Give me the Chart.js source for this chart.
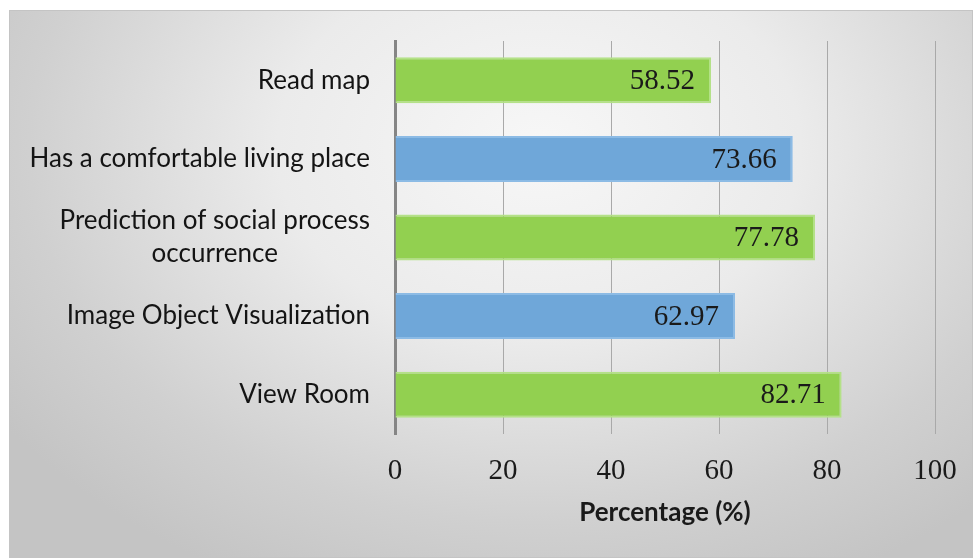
<!DOCTYPE html>
<html>
<head>
<meta charset="utf-8">
<script src="https://cdn.jsdelivr.net/npm/chart.js@4.4.0/dist/chart.umd.min.js"></script>
<style>
  html, body { margin: 0; padding: 0; background: #ffffff; }
  #box {
    position: absolute; left: 9px; top: 10px; width: 964px; height: 548px;
    box-sizing: border-box; border: 1px solid #c4c4c4;
    background: radial-gradient(ellipse 68% 88% at 55% 25%, #f7f7f7 0%, #ebebeb 40%, #d0d0d0 78%, #c4c4c4 100%);
  }
  #chart { display: block; }
</style>
</head>
<body>
<div id="box"><canvas id="chart" width="962" height="546"></canvas></div>
<script>
// valeurs (du haut vers le bas)
const categories = [
  ['Read map'],
  ['Has a comfortable living place'],
  ['Prediction of social process', 'occurrence'],
  ['Image Object Visualization'],
  ['View Room']
];
const values = [58.52, 73.66, 77.78, 62.97, 82.71];
const xTicks = [0, 20, 40, 60, 80, 100];

const green = '#92d050', blue = '#6fa7d9';
const barColors = [green, blue, green, blue, green];
const barBorders = ['#b4e188', '#8cbbe5', '#b4e188', '#8cbbe5', '#b4e188'];

const labelFont = '26px Lato';
const numFont = '29px "Liberation Serif"';

// étiquettes de catégories : bloc aligné à droite, lignes centrées
const categoryLabels = {
  id: 'categoryLabels',
  afterDraw(chart) {
    const ctx = chart.ctx;
    const y = chart.scales.y;
    const right = 360;
    const lineH = 33;
    ctx.save();
    ctx.font = labelFont;
    ctx.fillStyle = '#141414';
    ctx.textAlign = 'center';
    ctx.textBaseline = 'middle';
    categories.forEach((lines, i) => {
      const yc = y.getPixelForValue(i);
      const w = Math.max(...lines.map(l => ctx.measureText(l).width));
      const y0 = yc - (lines.length - 1) * lineH / 2;
      lines.forEach((l, k) => ctx.fillText(l, right - w / 2, y0 + k * lineH));
    });
    ctx.restore();
  }
};

// valeurs dans les barres
const valueLabels = {
  id: 'valueLabels',
  afterDatasetsDraw(chart) {
    const ctx = chart.ctx;
    const meta = chart.getDatasetMeta(0);
    ctx.save();
    ctx.font = numFont;
    ctx.fillStyle = '#1a1a1a';
    ctx.textAlign = 'right';
    ctx.textBaseline = 'middle';
    meta.data.forEach((bar, i) => {
      ctx.fillText(values[i].toFixed(2), bar.x - 16, bar.y + 1);
    });
    ctx.restore();
  }
};

new Chart(document.getElementById('chart'), {
  type: 'bar',
  data: {
    labels: categories.map(c => c.join(' ')),
    datasets: [{
      data: values,
      backgroundColor: barColors,
      borderColor: barBorders,
      borderWidth: 2,
      borderSkipped: 'start',
      barPercentage: 0.585,
      categoryPercentage: 1
    }]
  },
  options: {
    indexAxis: 'y',
    responsive: false,
    animation: false,
    layout: { padding: { left: 385, right: 37, top: 30, bottom: 7 } },
    plugins: { legend: { display: false }, tooltip: { enabled: false } },
    scales: {
      x: {
        min: 0, max: 100,
        afterBuildTicks: s => { s.ticks = xTicks.map(v => ({ value: v })); },
        afterFit: s => { s.paddingLeft = 0; s.paddingRight = 0; },
        grid: { color: '#a9a9a9', lineWidth: 1, drawTicks: false },
        border: { display: false },
        ticks: { font: { family: 'Liberation Serif', size: 29 }, color: '#1a1a1a', padding: 20 },
        title: {
          display: true, text: 'Percentage (%)',
          font: { family: 'Lato', size: 26, weight: 'bold' }, color: '#1a1a1a',
          padding: { top: -12, bottom: 22 }
        }
      },
      y: {
        grid: { display: false, drawTicks: false },
        border: { display: true, color: '#858585', width: 3 },
        ticks: { display: false }
      }
    }
  },
  plugins: [categoryLabels, valueLabels]
});
</script>
</body>
</html>
